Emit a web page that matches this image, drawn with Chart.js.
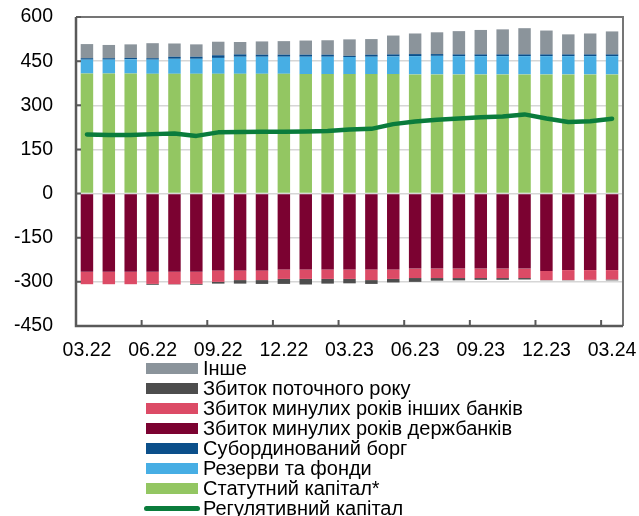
<!DOCTYPE html>
<html>
<head>
<meta charset="utf-8">
<script src="https://cdn.jsdelivr.net/npm/chart.js@4"></script>
<style>
  html, body { margin: 0; padding: 0; background: #fff; }
  #wrap { position: relative; width: 639px; height: 516px; overflow: hidden; }
  #legend { position: absolute; left: 144px; top: 358px; font: 20px "Liberation Sans", Arial, sans-serif; color: #000; }
  .item { display: flex; align-items: center; height: 20px; white-space: nowrap; }
  .sw { width: 52px; height: 11px; margin-left: 2px; margin-right: 5px; }
  .ln { width: 56px; height: 5px; border-radius: 3px; margin-right: 3px; }
</style>
</head>
<body>
<div id="wrap">
  <canvas id="chart" width="639" height="516"></canvas>
  <div id="legend"></div>
</div>
<script>
(function () {
  "use strict";

  const MONTHS = ["03.22", "04.22", "05.22", "06.22", "07.22", "08.22", "09.22", "10.22", "11.22",
    "12.22", "01.23", "02.23", "03.23", "04.23", "05.23", "06.23", "07.23", "08.23", "09.23",
    "10.23", "11.23", "12.23", "01.24", "02.24", "03.24"];

  const Y_TICKS = [-450, -300, -150, 0, 150, 300, 450, 600];

  // positive side (UAH bn)
  const STATUTORY = [408, 408, 408, 407, 407, 407, 407, 407, 407, 407, 406, 406, 406, 406, 406, 405, 405, 405, 405, 405, 405, 405, 405, 405, 405];
  const RESERVES = [47, 47, 48, 48, 51, 51, 54, 58, 58, 58, 59, 59, 58, 59, 60, 62, 63, 62, 62, 62, 62, 62, 62, 62, 62];
  const SUB_DEBT = [5, 5, 5, 5, 7, 7, 9, 8, 7, 7, 7, 7, 4, 7, 7, 7, 6, 6, 6, 6, 6, 6, 6, 6, 6];
  const OTHER = [48, 45, 46, 51, 45, 42, 46, 42, 45, 46, 48, 49, 56, 53, 64, 70, 74, 79, 83, 85, 89, 81, 68, 71, 78];

  // negative side
  const LOSS_STATE = [-266, -266, -266, -266, -266, -266, -261, -261, -261, -258, -258, -258, -258, -258, -258, -255, -255, -255, -255, -255, -255, -263, -260, -260, -260];
  const LOSS_OTHER = [-42, -42, -42, -41, -42, -41, -39, -33, -33, -32, -32, -32, -32, -36, -32, -32, -32, -32, -32, -32, -32, -31, -34, -33, -32];
  const LOSS_CURRENT = [0, 0, 0, -3, -1, -3, -6, -12, -13, -17, -19, -16, -15, -13, -12, -13, -9, -8, -6, -6, -5, -1, -1, -2, -3];

  const REG_CAPITAL = [201, 199, 199, 202, 204, 196, 208, 209, 210, 210, 211, 213, 218, 220, 236, 245, 251, 255, 259, 262, 269, 255, 243, 246, 254];

  const COLORS = {
    other: "#8b949b",
    lossCurrent: "#4d4d4d",
    lossOther: "#dc4b66",
    lossState: "#7b0231",
    subDebt: "#0b4f8a",
    reserves: "#47aee4",
    statutory: "#93c662",
    reg: "#0a7c3c",
    grid: "#d6d6d6",
    axis: "#595959",
    frame: "#757575",
  };

  const FONT = { family: "'Liberation Sans', Arial, sans-serif", size: 19.5 };

  function bar(label, data, color) {
    return {
      type: "bar",
      label: label,
      data: data,
      backgroundColor: color,
      borderWidth: 0,
      stack: "s",
      order: 1,
      categoryPercentage: 1,
      barPercentage: 0.57,
    };
  }

  // frame + inward tick marks
  const framePlugin = {
    id: "frame",
    afterDraw(chart) {
      const { ctx, chartArea: a, scales } = chart;
      ctx.save();
      ctx.lineCap = "butt";
      // top & right
      ctx.strokeStyle = COLORS.frame;
      ctx.lineWidth = 2;
      ctx.beginPath();
      ctx.moveTo(a.left, a.top);
      ctx.lineTo(a.right, a.top);
      ctx.lineTo(a.right, a.bottom);
      ctx.stroke();
      // left & bottom axis
      ctx.strokeStyle = COLORS.axis;
      ctx.lineWidth = 2.5;
      ctx.beginPath();
      ctx.moveTo(a.left, a.top);
      ctx.lineTo(a.left, a.bottom);
      ctx.lineTo(a.right, a.bottom);
      ctx.stroke();
      // y ticks
      ctx.lineWidth = 2;
      ctx.beginPath();
      Y_TICKS.forEach((v) => {
        const y = scales.y.getPixelForValue(v);
        ctx.moveTo(a.left, y);
        ctx.lineTo(a.left + 5, y);
      });
      // x ticks every 3 months, at category boundaries
      const xs = scales.x;
      for (let k = 3; k < MONTHS.length; k += 3) {
        const x = (xs.getPixelForValue(k) + xs.getPixelForValue(k - 1)) / 2;
        ctx.moveTo(x, a.bottom);
        ctx.lineTo(x, a.bottom - 6);
      }
      ctx.stroke();
      ctx.restore();
    },
  };

  const chart = new Chart(document.getElementById("chart"), {
    data: {
      labels: MONTHS,
      datasets: [
        {
          type: "line",
          label: "Регулятивний капітал",
          data: REG_CAPITAL,
          borderColor: COLORS.reg,
          backgroundColor: COLORS.reg,
          borderWidth: 4.5,
          borderCapStyle: "round",
          borderJoinStyle: "round",
          pointRadius: 0,
          tension: 0,
          order: 0,
        },
        bar("Статутний капітал*", STATUTORY, COLORS.statutory),
        bar("Резерви та фонди", RESERVES, COLORS.reserves),
        bar("Субординований борг", SUB_DEBT, COLORS.subDebt),
        bar("Інше", OTHER, COLORS.other),
        bar("Збиток минулих років держбанків", LOSS_STATE, COLORS.lossState),
        bar("Збиток минулих років інших банків", LOSS_OTHER, COLORS.lossOther),
        bar("Збиток поточного року", LOSS_CURRENT, COLORS.lossCurrent),
      ],
    },
    options: {
      responsive: false,
      animation: false,
      devicePixelRatio: 1,
      layout: { padding: { top: 17, right: 16, left: 0, bottom: 0 } },
      plugins: { legend: { display: false }, tooltip: { enabled: false } },
      scales: {
        x: {
          stacked: true,
          offset: true,
          grid: { display: false, drawTicks: false },
          border: { display: false },
          ticks: {
            autoSkip: false,
            maxRotation: 0,
            padding: 13,
            color: "#000",
            font: FONT,
            callback: (v, i) => (i % 3 === 0 ? MONTHS[i] : ""),
          },
          afterFit: (s) => {
            s.height = 190;
            s.paddingLeft = 0;
            s.paddingRight = 0;
          },
        },
        y: {
          stacked: true,
          min: -450,
          max: 600,
          grid: { color: COLORS.grid, lineWidth: 1.5, drawTicks: false },
          border: { display: false },
          afterBuildTicks: (s) => { s.ticks = Y_TICKS.map((v) => ({ value: v })); },
          ticks: { padding: 23, color: "#000", font: FONT },
          afterFit: (s) => {
            s.width = 76;
            s.paddingTop = 0;
            s.paddingBottom = 0;
          },
        },
      },
    },
    plugins: [framePlugin],
  });

  // vertical legend below the chart
  const LEGEND_ORDER = [
    "Інше",
    "Збиток поточного року",
    "Збиток минулих років інших банків",
    "Збиток минулих років держбанків",
    "Субординований борг",
    "Резерви та фонди",
    "Статутний капітал*",
    "Регулятивний капітал",
  ];
  const legend = document.getElementById("legend");
  LEGEND_ORDER.forEach((name) => {
    const ds = chart.data.datasets.find((d) => d.label === name);
    const row = document.createElement("div");
    row.className = "item";
    const sw = document.createElement("span");
    sw.className = ds.type === "line" ? "ln" : "sw";
    sw.style.background = ds.type === "line" ? ds.borderColor : ds.backgroundColor;
    const txt = document.createElement("span");
    txt.textContent = name;
    row.appendChild(sw);
    row.appendChild(txt);
    legend.appendChild(row);
  });
})();
</script>
</body>
</html>
